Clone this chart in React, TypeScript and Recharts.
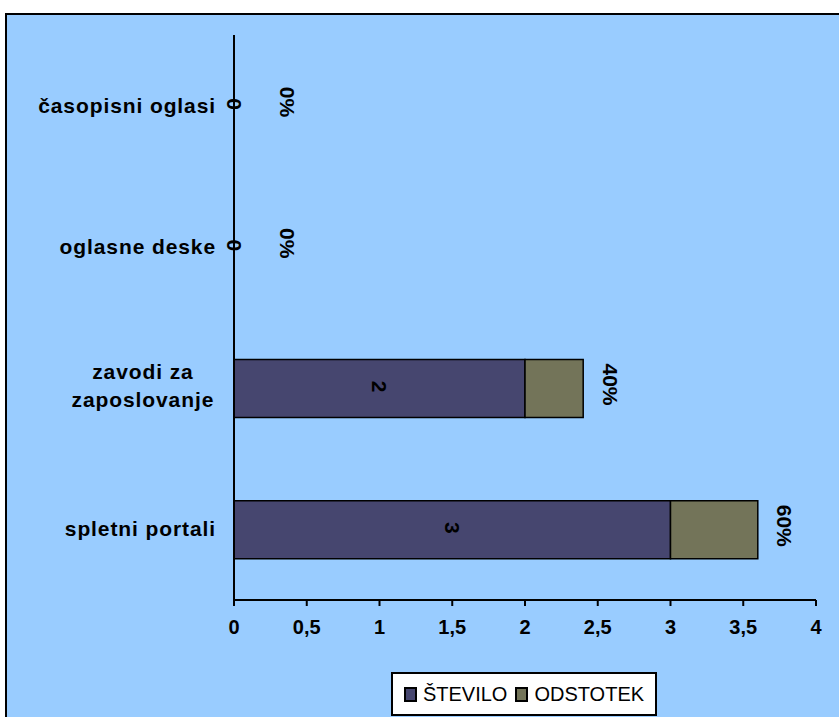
import React from "react";
import { BarChart, Bar, XAxis, YAxis, LabelList } from "recharts";

const categories = ["časopisni oglasi", "oglasne deske", "zavodi za zaposlovanje", "spletni portali"];
const stevilo = [0, 0, 2, 3];
const odstotek = [0, 0, 0.4, 0.6];
const xTicks = [0, 0.5, 1, 1.5, 2, 2.5, 3, 3.5, 4];
const seriesNames = ["ŠTEVILO", "ODSTOTEK"];
const seriesColors = ["#46466F", "#737459"];

const FONT = "'Liberation Sans', Arial, sans-serif";
const LABEL_SIZE = 21;

const data = categories.map((name, i) => ({
  name,
  stevilo: stevilo[i],
  odstotek: odstotek[i],
}));

// category labels, long ones wrap on the last space and are centred in their block
function CategoryTick(props: any) {
  const { x, y, payload } = props;
  const label: string = payload.value;
  const common = {
    fontFamily: FONT,
    fontWeight: "bold" as const,
    fontSize: LABEL_SIZE,
    letterSpacing: 0.9,
    fill: "#000",
  };
  if (label.length > 18) {
    const cut = label.lastIndexOf(" ");
    const lines = [label.slice(0, cut), label.slice(cut + 1)];
    const longest = Math.max(...lines.map((l) => l.length));
    const cx = x - longest * LABEL_SIZE * 0.29;
    return (
      <text x={cx} y={y} textAnchor="middle" {...common}>
        <tspan x={cx} dy={-9}>{lines[0]}</tspan>
        <tspan x={cx} dy={28}>{lines[1]}</tspan>
      </text>
    );
  }
  return (
    <text x={x} y={y} dy={7} textAnchor="end" {...common}>
      {label}
    </text>
  );
}

function CountLabel(props: any) {
  const { x, y, width, height, value } = props;
  const cx = x + width / 2;
  const cy = y + height / 2 - 2;
  return (
    <text x={cx} y={cy} transform={`rotate(90 ${cx} ${cy})`} textAnchor="middle" dominantBaseline="central" fontFamily={FONT} fontWeight="bold" fontSize={LABEL_SIZE} fill="#000">
      {value}
    </text>
  );
}

function PercentLabel(props: any) {
  const { x, y, width, height, value } = props;
  const cx = x + width + (value === 0 ? 53 : 27);
  const cy = y + height / 2 - 4;
  return (
    <text x={cx} y={cy} transform={`rotate(90 ${cx} ${cy})`} textAnchor="middle" dominantBaseline="central" fontFamily={FONT} fontWeight="bold" fontSize={LABEL_SIZE} fill="#000">
      {Math.round(value * 100) + "%"}
    </text>
  );
}

export default function App() {
  return (
    <div style={{ position: "absolute", left: 0, top: 0, width: 839, height: 717, overflow: "hidden", background: "#fff" }}>
      <div
        style={{
          position: "absolute",
          left: 5,
          top: 13,
          width: 850,
          height: 720,
          background: "#99CCFF",
          borderTop: "2px solid #000",
          borderLeft: "2px solid #000",
        }}
      />
      <div style={{ position: "absolute", left: 0, top: 0 }}>
        <BarChart
          width={839}
          height={717}
          data={data}
          layout="vertical"
          margin={{ top: 35, right: 23, bottom: 77, left: 14 }}
          barSize={58}
        >
          <XAxis
            type="number"
            domain={[0, 4]}
            ticks={xTicks}
            interval={0}
            height={40}
            axisLine={{ stroke: "#000", strokeWidth: 2 }}
            tickLine={{ stroke: "#000", strokeWidth: 2 }}
            tickSize={6}
            tickMargin={14}
            tickFormatter={(v: number) => String(v).replace(".", ",")}
            tick={{ fill: "#000", fontFamily: FONT, fontWeight: "bold", fontSize: 20 }}
          />
          <YAxis
            type="category"
            dataKey="name"
            width={220}
            axisLine={{ stroke: "#000", strokeWidth: 2 }}
            tickLine={false}
            tickSize={0}
            tickMargin={18}
            interval={0}
            tick={<CategoryTick />}
          />
          <Bar dataKey="stevilo" name={seriesNames[0]} stackId="a" fill={seriesColors[0]} stroke="#000" strokeWidth={1.5} minPointSize={0.01} isAnimationActive={false}>
            <LabelList dataKey="stevilo" content={<CountLabel />} />
          </Bar>
          <Bar dataKey="odstotek" name={seriesNames[1]} stackId="a" fill={seriesColors[1]} stroke="#000" strokeWidth={1.5} minPointSize={0.01} isAnimationActive={false}>
            <LabelList dataKey="odstotek" content={<PercentLabel />} />
          </Bar>
        </BarChart>
      </div>
      <div
        style={{
          position: "absolute",
          left: 391,
          top: 672,
          width: 262,
          height: 40,
          background: "#fff",
          border: "2px solid #000",
          display: "flex",
          alignItems: "center",
          justifyContent: "center",
          fontFamily: FONT,
          fontSize: 20,
          color: "#000",
          boxSizing: "content-box",
        }}
      >
        {seriesNames.map((n, i) => (
          <span key={n} style={{ display: "flex", alignItems: "center", marginRight: i === 0 ? 8 : 0 }}>
            <span style={{ display: "inline-block", width: 9, height: 11, background: seriesColors[i], border: "2px solid #000", marginRight: 6 }} />
            {n}
          </span>
        ))}
      </div>
    </div>
  );
}
